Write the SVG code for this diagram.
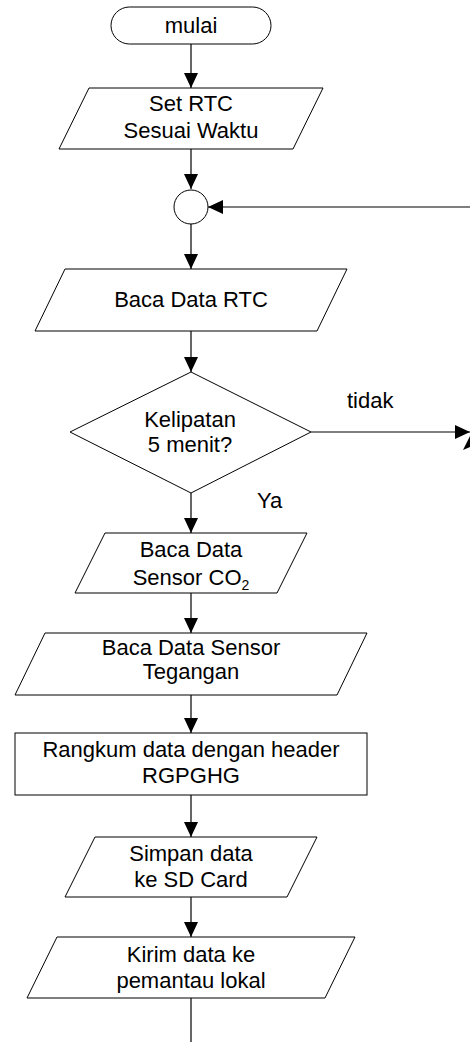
<svg xmlns="http://www.w3.org/2000/svg" width="470" height="1042" viewBox="0 0 470 1042">
<style>
.s{fill:#fff;stroke:#000;stroke-width:1}
.t{font-family:"Liberation Sans",Arial,sans-serif;font-size:22px;fill:#000;text-anchor:middle}
.l{font-family:"Liberation Sans",Arial,sans-serif;font-size:22px;fill:#000}
.c{fill:none;stroke:#000;stroke-width:1.2}
</style>
<defs>
<marker id="ah" markerWidth="15" markerHeight="14" refX="15" refY="7" orient="auto" markerUnits="userSpaceOnUse">
<path d="M0,0 L15,7 L0,14 z" fill="#000"/>
</marker>
</defs>
<rect width="470" height="1042" fill="#fff"/>
<g id="connectors">
<line class="c" x1="191" y1="44" x2="191" y2="88" marker-end="url(#ah)"/>
<line class="c" x1="191" y1="149" x2="191" y2="189" marker-end="url(#ah)"/>
<line class="c" x1="470" y1="207" x2="208" y2="207" stroke-width="2" marker-end="url(#ah)"/>
<line class="c" x1="191" y1="224" x2="191" y2="269" marker-end="url(#ah)"/>
<line class="c" x1="191" y1="331" x2="191" y2="372" marker-end="url(#ah)"/>
<line class="c" x1="311" y1="432" x2="470" y2="432" marker-end="url(#ah)"/>
<polygon points="463,450 470,436 470,447" fill="#000"/>
<line class="c" x1="191" y1="493" x2="191" y2="533" marker-end="url(#ah)"/>
<line class="c" x1="191" y1="593" x2="191" y2="633" marker-end="url(#ah)"/>
<line class="c" x1="191" y1="695" x2="191" y2="733" marker-end="url(#ah)"/>
<line class="c" x1="191" y1="795" x2="191" y2="837" marker-end="url(#ah)"/>
<line class="c" x1="191" y1="897" x2="191" y2="937" marker-end="url(#ah)"/>
<line class="c" x1="191" y1="998" x2="191" y2="1042"/>
<text class="l" x="347" y="408">tidak</text>
<text class="l" x="257" y="508">Ya</text>
</g>
<g id="mulai">
<rect class="s" x="111" y="7" width="160" height="37" rx="18.5"/>
<text class="t" x="191" y="33">mulai</text>
</g>
<g id="set-rtc">
<polygon class="s" points="89,88 323,88 293,149 59,149"/>
<text class="t" x="191" y="111">Set RTC</text>
<text class="t" x="191" y="138">Sesuai Waktu</text>
</g>
<g id="junction">
<circle class="s" cx="191" cy="207" r="17"/>
</g>
<g id="baca-rtc">
<polygon class="s" points="65,269 347,269 317,331 35,331"/>
<text class="t" x="191" y="307">Baca Data RTC</text>
</g>
<g id="kelipatan">
<polygon class="s" points="191,372 311,432 191,493 70,432"/>
<text class="t" x="190" y="427">Kelipatan</text>
<text class="t" x="190" y="452">5 menit?</text>
</g>
<g id="baca-co2">
<polygon class="s" points="105,533 307,533 277,593 75,593"/>
<text class="t" x="191" y="557">Baca Data</text>
<text class="t" x="191" y="585">Sensor CO<tspan font-size="14" dy="5">2</tspan></text>
</g>
<g id="baca-tegangan">
<polygon class="s" points="45,633 367,633 337,695 15,695"/>
<text class="t" x="191" y="655">Baca Data Sensor</text>
<text class="t" x="191" y="679">Tegangan</text>
</g>
<g id="rangkum">
<rect class="s" x="15" y="733" width="352" height="62"/>
<text class="t" x="191" y="757">Rangkum data dengan header</text>
<text class="t" x="191" y="783">RGPGHG</text>
</g>
<g id="simpan">
<polygon class="s" points="95,837 317,837 287,897 65,897"/>
<text class="t" x="191" y="861">Simpan data</text>
<text class="t" x="191" y="887">ke SD Card</text>
</g>
<g id="kirim">
<polygon class="s" points="57,937 355,937 325,998 27,998"/>
<text class="t" x="191" y="962">Kirim data ke</text>
<text class="t" x="191" y="988">pemantau lokal</text>
</g>
</svg>
